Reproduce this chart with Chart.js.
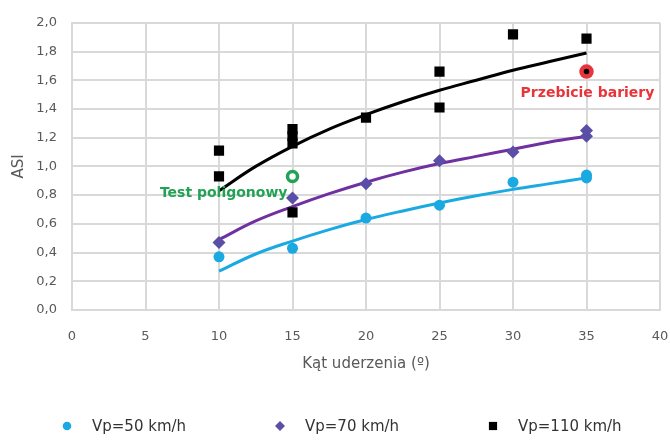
<!DOCTYPE html>
<html>
<head>
<meta charset="utf-8">
<script src="https://cdn.jsdelivr.net/npm/chart.js@4"></script>
<style>
  html, body { margin: 0; padding: 0; background: #fff; }
  #wrap { width: 670px; height: 441px; }
</style>
</head>
<body>
<div id="wrap"><canvas id="chart"></canvas></div>
<script>
// measured points (angle, ASI)
const x50 = [10, 15, 20, 25, 30, 35, 35];
const y50 = [0.37, 0.43, 0.64, 0.73, 0.89, 0.92, 0.94];
const x70 = [10, 15, 20, 25, 30, 35, 35];
const y70 = [0.47, 0.78, 0.88, 1.04, 1.10, 1.21, 1.25];
const x110 = [10, 10, 15, 15, 15, 15, 20, 25, 25, 30, 35];
const y110 = [1.11, 0.93, 1.26, 1.21, 1.16, 0.68, 1.34, 1.66, 1.41, 1.92, 1.89];

// trend lines
const trendX = [10, 12.5, 15, 17.5, 20, 22.5, 25, 27.5, 30, 32.5, 35];
const trend50 = [0.27, 0.39, 0.48, 0.56, 0.63, 0.69, 0.745, 0.795, 0.84, 0.88, 0.92];
const trend70 = [0.49, 0.62, 0.72, 0.81, 0.89, 0.96, 1.02, 1.07, 1.12, 1.17, 1.21];
const trend110 = [0.83, 1.0, 1.14, 1.26, 1.36, 1.45, 1.53, 1.60, 1.67, 1.73, 1.79];

// highlighted tests
const testX = [15];
const testY = [0.93];
const breachX = [35];
const breachY = [1.66];

const labels = ['Vp=50 km/h', 'Vp=70 km/h', 'Vp=110 km/h'];
const xTicks = [0, 5, 10, 15, 20, 25, 30, 35, 40];

const pts = (xs, ys) => xs.map((x, i) => ({ x: x, y: ys[i] }));

const FONT = 'DejaVu Sans';
const gray = '#595959';
const gridColor = '#d9d9d9';
const cyan = '#1ba9e1';
const violet = '#5a4ea6';

// text notes next to the highlighted points
const notes = {
    id: 'notes',
    afterDatasetsDraw(chart) {
        const { ctx, scales: { x, y } } = chart;
        ctx.save();
        ctx.font = 'bold 14px "' + FONT + '"';
        ctx.textBaseline = 'middle';
        ctx.fillStyle = '#22a254';
        ctx.textAlign = 'right';
        ctx.fillText('Test poligonowy', x.getPixelForValue(testX[0]) - 5, y.getPixelForValue(testY[0]) + 17);
        ctx.fillStyle = '#e8353b';
        ctx.textAlign = 'center';
        ctx.fillText('Przebicie bariery', x.getPixelForValue(breachX[0]) + 1, y.getPixelForValue(breachY[0]) + 22);
        ctx.restore();
    }
};

// legend row under the axis title, spaced like the original
const legendSize = { circle: 4.3, rectRot: 5, rect: 5.8 };
const bottomLegend = {
    id: 'bottomLegend',
    afterDraw(chart) {
        const { ctx, chartArea } = chart;
        const ds = chart.data.datasets.filter(d => labels.includes(d.label));
        const y = chartArea.bottom + 116;
        ctx.save();
        ctx.font = '15px "' + FONT + '"';
        ctx.textBaseline = 'middle';
        ctx.textAlign = 'left';
        ds.forEach((d, i) => {
            const cx = 67 + i * 213;
            ctx.fillStyle = d.backgroundColor;
            Chart.helpers.drawPoint(ctx, { pointStyle: d.pointStyle, radius: legendSize[d.pointStyle], borderWidth: 0 }, cx, y);
            ctx.fillStyle = '#333';
            ctx.fillText(d.label, cx + 25, y + 1);
        });
        ctx.restore();
    }
};

new Chart(document.getElementById('chart'), {
    type: 'scatter',
    data: {
        datasets: [
            { label: 'trend110', data: pts(trendX, trend110), showLine: true, borderColor: '#000', borderWidth: 3, pointRadius: 0, tension: 0.4, order: 5 },
            { label: 'trend70', data: pts(trendX, trend70), showLine: true, borderColor: '#7030a0', borderWidth: 3, pointRadius: 0, tension: 0.4, order: 5 },
            { label: 'trend50', data: pts(trendX, trend50), showLine: true, borderColor: cyan, borderWidth: 3, pointRadius: 0, tension: 0.4, order: 5 },
            { label: labels[0], data: pts(x50, y50), pointStyle: 'circle', pointRadius: 5.5, backgroundColor: cyan, borderColor: cyan, borderWidth: 0, order: 2 },
            { label: labels[1], data: pts(x70, y70), pointStyle: 'rectRot', pointRadius: 6.5, backgroundColor: violet, borderColor: violet, borderWidth: 0, order: 2 },
            { label: labels[2], data: pts(x110, y110), pointStyle: 'rect', pointRadius: 7.2, backgroundColor: '#000', borderColor: '#000', borderWidth: 0, order: 2 },
            { label: 'test', data: pts(testX, testY), pointStyle: 'circle', pointRadius: 5, backgroundColor: '#fff', borderColor: '#22a254', borderWidth: 3.5, order: 1 },
            { label: 'breach', data: pts(breachX, breachY), pointStyle: 'circle', pointRadius: 5, backgroundColor: '#000', borderColor: '#e8353b', borderWidth: 4.5, order: 1 }
        ]
    },
    options: {
        responsive: true,
        maintainAspectRatio: false,
        animation: false,
        layout: { padding: { left: 10, right: 10, top: 15, bottom: 68 } },
        plugins: {
            tooltip: { enabled: false },
            legend: { display: false }
        },
        scales: {
            x: {
                type: 'linear',
                min: 0,
                max: 40,
                afterBuildTicks: s => { s.ticks = xTicks.map(v => ({ value: v })); },
                afterFit: s => { s.height = 63; s.paddingLeft = 0; s.paddingRight = 0; },
                grid: { color: gridColor, lineWidth: 2, drawTicks: false },
                border: { color: gridColor, width: 2 },
                ticks: { padding: 19, color: gray, font: { family: FONT, size: 13 } },
                title: {
                    display: true,
                    text: 'Kąt uderzenia (º)',
                    color: gray,
                    font: { family: FONT, size: 15 },
                    padding: { top: 0, bottom: 0 }
                }
            },
            y: {
                min: 0,
                max: 2,
                afterFit: s => { s.width = 62; },
                grid: { color: gridColor, lineWidth: 2, drawTicks: false },
                border: { color: gridColor, width: 2 },
                ticks: {
                    stepSize: 0.2,
                    padding: 15,
                    color: gray,
                    font: { family: FONT, size: 13 },
                    callback: v => v.toFixed(1).replace('.', ',')
                },
                title: {
                    display: true,
                    text: 'ASI',
                    color: gray,
                    font: { family: FONT, size: 15 },
                    padding: { top: 0, bottom: 0 }
                }
            }
        }
    },
    plugins: [notes, bottomLegend]
});
</script>
</body>
</html>
